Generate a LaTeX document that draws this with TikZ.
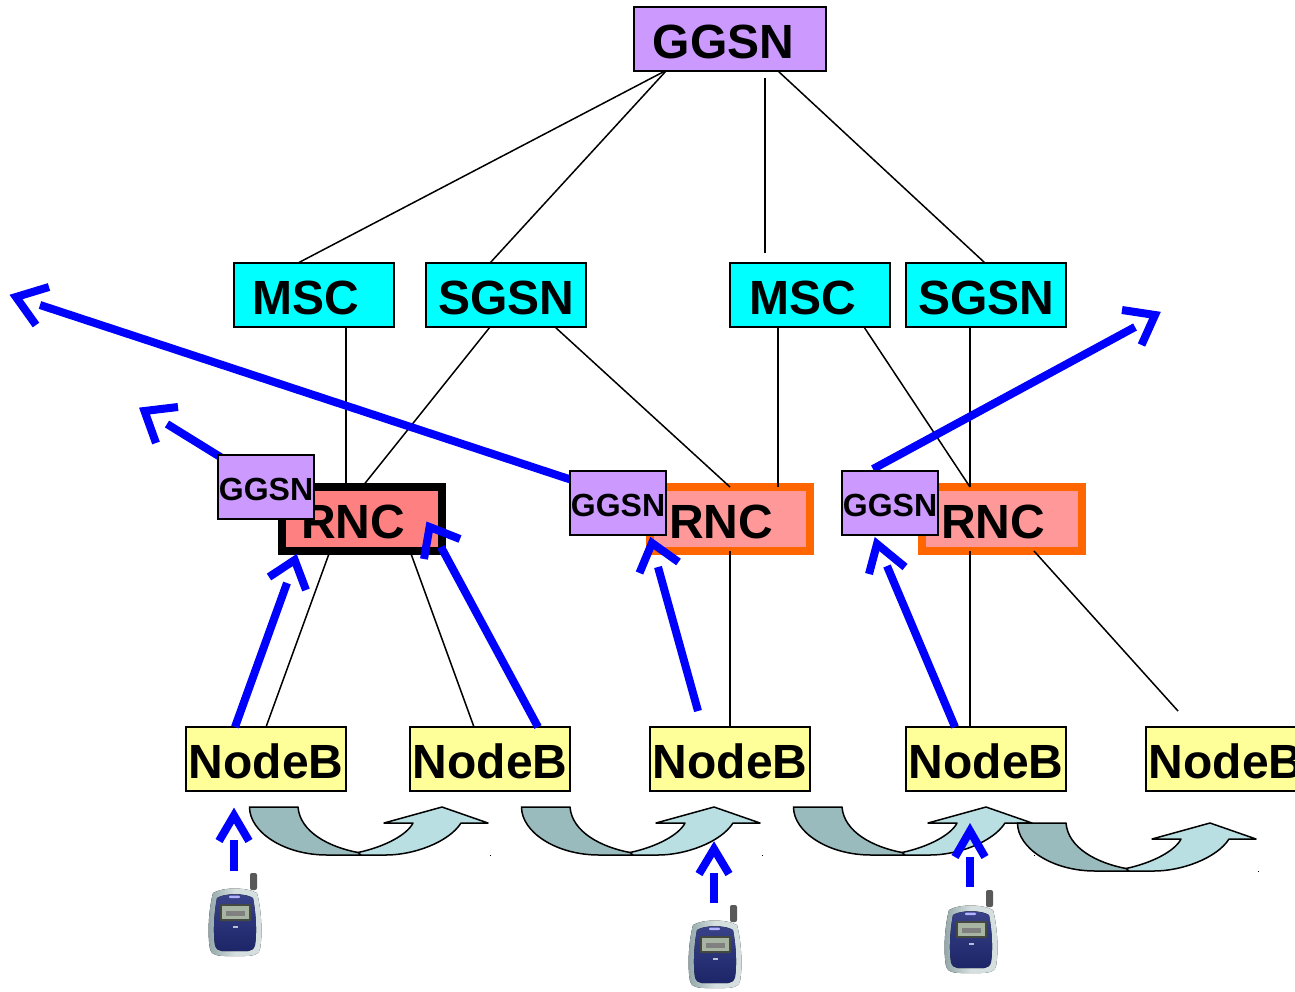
\documentclass[tikz,border=0pt]{standalone}
\usepackage{fontspec}
\setmainfont{Liberation Sans}
\definecolor{pur}{HTML}{CC99FF}
\definecolor{cy}{HTML}{00FFFF}
\definecolor{yel}{HTML}{FFFF99}
\definecolor{rncA}{HTML}{FF8080}
\definecolor{rncB}{HTML}{FF9999}
\definecolor{org}{HTML}{FF6600}
\definecolor{blu}{HTML}{0000FF}
\definecolor{arrD}{HTML}{9ABBBD}
\definecolor{arrL}{HTML}{B9DFE3}
\definecolor{navyA}{HTML}{1C2468}
\definecolor{navyB}{HTML}{3A4288}
\definecolor{silvA}{HTML}{8FA3A6}
\definecolor{silvB}{HTML}{D5DFDF}
\definecolor{lcd}{HTML}{A8B5A2}
\newcommand\lbl[3]{\smash{\raisebox{#2pt}{\makebox[0pt]{\hspace*{#1pt}#3}}}}
\newcommand\curvedarr[2]{%
  \begin{scope}[shift={(#1,#2)},line width=1.5pt,line join=round]
    \filldraw[fill=arrL] (109,45.5) .. controls (135,40) and (158,28) .. (164,16) -- (135,16) -- (193,0) -- (239,16) -- (212,16) .. controls (200,35) and (165,48) .. (137,48) -- (100,48) -- cycle;
    \filldraw[fill=arrD] (0.5,0) -- (49,0) .. controls (51,25) and (80,40) .. (109,45.5) -- (112,48) -- (78,48) .. controls (35,48) and (0.5,25) .. (0.5,0) -- cycle;
    \fill (241,47.5) rectangle (242,49);
  \end{scope}}
\newcommand\phone[2]{%
  \begin{scope}[shift={(#1,#2)}]
    \fill[black!65,rounded corners=2pt] (42,0) rectangle (49,17);
    \fill[left color=silvA,right color=silvB,middle color=silvB]
      (5,20) .. controls (15,14) and (38,14) .. (49,20) .. controls (53,35) and (55,60) .. (52,76)
      .. controls (50,84) and (40,83) .. (27,83) .. controls (14,83) and (4,84) .. (2,76) .. controls (-1,60) and (1,35) .. (5,20) -- cycle;
    \fill[top color=navyB,bottom color=navyA]
      (9,25) .. controls (16,20) and (38,20) .. (45,25) .. controls (48,40) and (49,60) .. (47,72)
      .. controls (45,80) and (38,78) .. (27,78) .. controls (16,78) and (9,80) .. (7,72) .. controls (5,60) and (6,40) .. (9,25) -- cycle;
    \fill[black!60!lcd,rounded corners=1pt] (12,31) rectangle (43,48);
    \fill[lcd] (14,33) rectangle (41,46);
    \fill[black!50] (18,38) rectangle (37,43);
    \fill[white!70!blue,rounded corners=1pt] (21,22.5) rectangle (32,25);
    \fill[white!70!navyA] (25,53) rectangle (30,55);
  \end{scope}}
\newcommand\bluearr[5]{%
  \draw[arrline] #1 -- #2;
  \draw[arrline,line join=miter,miter limit=10] #3 -- #4 -- #5;}
\tikzset{
  x=1pt,y=-1pt,
  box/.style={draw=black,line width=1.5pt,inner sep=0pt,outer sep=0pt,text height=0pt,text depth=0pt,font=\fontsize{48}{48}\selectfont\bfseries},
  ggsnbig/.style={box,fill=pur,minimum width=192pt,minimum height=64pt},
  core/.style={box,fill=cy,minimum width=160pt,minimum height=64pt},
  nodeb/.style={box,fill=yel,minimum width=160pt,minimum height=64pt},
  rncblack/.style={box,fill=rncA,line width=8pt,minimum width=160pt,minimum height=64pt},
  rncorange/.style={box,draw=org,fill=rncB,line width=8pt,minimum width=160pt,minimum height=64pt},
  ggsnsmall/.style={box,fill=pur,minimum width=96pt,minimum height=64pt,font=\fontsize{32}{32}\selectfont\bfseries},
  link/.style={draw=black,line width=1.5pt},
  arrline/.style={draw=blu,line width=8pt}
}
\begin{document}
\begin{tikzpicture}
\useasboundingbox (0,0) rectangle (1295,991);
\clip (0,0) rectangle (1295,991);
\fill[white] (0,0) rectangle (1295,991);
% boxes
\node[ggsnbig] (g) at (730,39) {\lbl{-13}{-19}{GGSN}};
\node[core] (m1) at (314,295) {\lbl{-16}{-19}{MSC}};
\node[core] (s1) at (506,295) {\lbl{1}{-19}{SGSN}};
\node[core] (m2) at (810,295) {\lbl{-15}{-19}{MSC}};
\node[core] (s2) at (986,295) {\lbl{1}{-19}{SGSN}};
\node[rncblack] (r1) at (362,519) {\lbl{-18}{-19}{RNC}};
\node[rncorange] (r2) at (730,519) {\lbl{-18}{-19}{RNC}};
\node[rncorange] (r3) at (1002,519) {\lbl{-18}{-19}{RNC}};
\node[nodeb] (n1) at (266,759) {\lbl{0.5}{-19}{NodeB}};
\node[nodeb] (n2) at (490,759) {\lbl{0.5}{-19}{NodeB}};
\node[nodeb] (n3) at (730,759) {\lbl{0.5}{-19}{NodeB}};
\node[nodeb] (n4) at (986,759) {\lbl{0.5}{-19}{NodeB}};
\node[nodeb] (n5) at (1226,759) {\lbl{0.5}{-19}{NodeB}};
% thin links
\coordinate (free1) at (765,78);
\coordinate (free2) at (765,253);
\coordinate (free3) at (1178,711);
\draw[link] ([xshift=31pt]g.south west) -- ([xshift=64pt]m1.north west);
\draw[link] ([xshift=32pt]g.south west) -- ([xshift=64pt]s1.north west);
\draw[link] (free1) -- (free2);
\draw[link] ([xshift=144pt]g.south west) -- ([xshift=79pt]s2.north west);
\draw[link] ([xshift=112pt]m1.south west) -- ([xshift=-16pt]r1.north);
\draw[link] ([xshift=64pt]s1.south west) -- (r1.north);
\draw[link] ([xshift=129pt]s1.south west) -- (r2.north);
\draw[link] ([xshift=48pt]m2.south west) -- ([xshift=48pt]r2.north);
\draw[link] ([xshift=134pt]m2.south west) -- ([xshift=-32pt]r3.north);
\draw[link] ([xshift=64pt]s2.south west) -- ([xshift=-32pt]r3.north);
\draw[link] ([xshift=-32pt]r1.south) -- (n1.north);
\draw[link] ([xshift=48pt]r1.south) -- ([xshift=-16pt]n2.north);
\draw[link] (r2.south) -- (n3.north);
\draw[link] ([xshift=-32pt]r3.south) -- ([xshift=-16pt]n4.north);
\draw[link] ([xshift=32pt]r3.south) -- (free3);
% curved hand-over arrows
\curvedarr{249}{807}
\curvedarr{521}{807}
\curvedarr{793}{807}
\curvedarr{1017}{823}
% phones
\phone{208}{873}
\phone{688}{905}
\phone{944}{890}
% blue arrows
\bluearr{(572,480)}{(40,305)}{(49,287)}{(16,297)}{(36,325)}
\bluearr{(873,469)}{(1135,327)}{(1122,310)}{(1155,315)}{(1141.5,345)}
\bluearr{(222,458)}{(167,424)}{(178,407)}{(144.5,411)}{(156,443)}
\bluearr{(235,727)}{(287,583)}{(269,577)}{(294.7,560)}{(306,590)}
\bluearr{(538,727)}{(441,547)}{(424,559)}{(429.6,527)}{(460,539)}
\bluearr{(698,711)}{(658,567)}{(639.5,573)}{(652,543)}{(678.5,562)}
\bluearr{(955,727)}{(887,566)}{(869,574)}{(877,544)}{(905,567)}
\bluearr{(234,871)}{(234,840)}{(219,841)}{(234,815.5)}{(249,841)}
\bluearr{(714,903)}{(714,873)}{(699,874)}{(714,849)}{(729,874)}
\bluearr{(970,887)}{(970,857)}{(955,857)}{(970,831)}{(985,857)}
% small GGSN
\node[ggsnsmall] (q1) at (266,487) {\lbl{0}{-13}{GGSN}};
\node[ggsnsmall] (q2) at (618,503) {\lbl{0}{-13}{GGSN}};
\node[ggsnsmall] (q3) at (890,503) {\lbl{0}{-13}{GGSN}};
\end{tikzpicture}
\end{document}
